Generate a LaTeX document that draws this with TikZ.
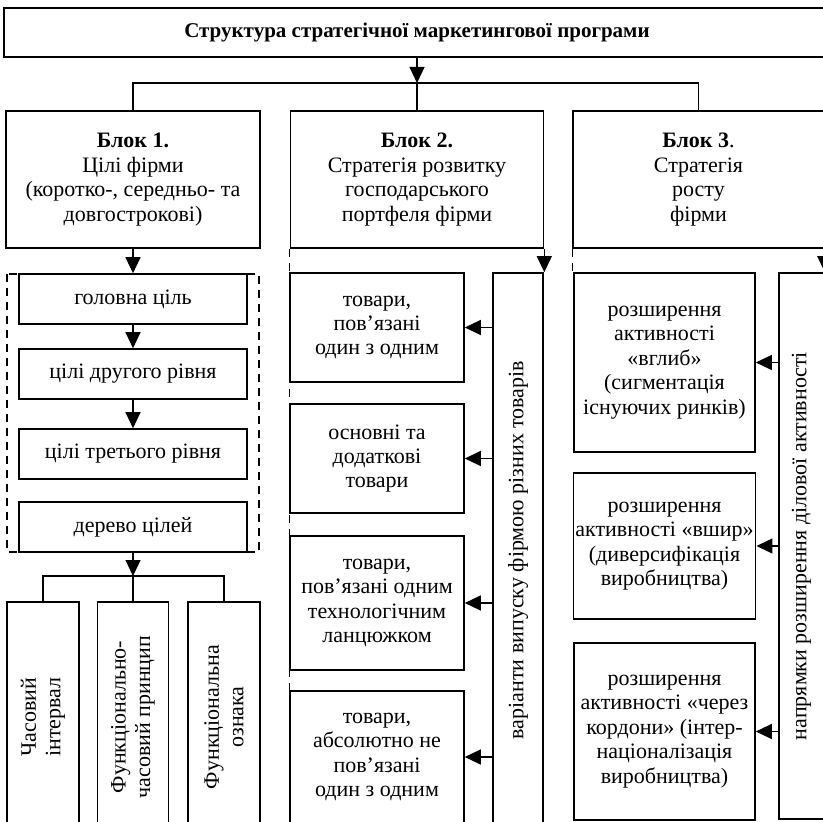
\documentclass[tikz,border=0pt]{standalone}
\usepackage{fontspec}
\setmainfont{Liberation Serif}
\usetikzlibrary{arrows.meta}

\begin{document}
\begin{tikzpicture}[x=0.5pt,y=-0.5pt,
	box_node/.style={draw,line width=0.8pt,fill=white,align=center,inner sep=1pt,font=\fontsize{11}{12.2}\selectfont},
	link/.style={line width=0.6pt},
	arr/.style={link,-{Triangle[length=8pt,width=7.5pt]}},
	dash_line/.style={line width=0.6pt,dash pattern=on 4pt off 3pt}]
		
		\clip (0,0) rectangle (823,822);
		
		\node[box_node,minimum width=413pt,minimum height=24.5pt,font=\fontsize{10.5}{12}\selectfont] (top) at (417,32.5) {\textbf{Структура стратегічної маркетингової програми}};
		
		\node[box_node,minimum width=127pt,minimum height=68.5pt] (b1) at (133,179.5) {\textbf{Блок 1.}\\Цілі фірми\\(коротко-, середньо- та\\довгострокові)};
		\node[box_node,minimum width=126.5pt,minimum height=68.5pt] (b2) at (417,179.5) {\textbf{Блок 2.}\\Стратегія розвитку\\господарського\\портфеля фірми};
		\node[box_node,minimum width=125.5pt,minimum height=68.5pt] (b3) at (698.5,179.5) {\textbf{Блок 3}.\\Стратегія\\росту\\фірми};
		
		\coordinate (fork) at (417,83);
		\draw[arr] (top.south) -- (fork);
		\draw[link] (b1.north) |- (fork) -| (b3.north);
		\draw[link] (fork) -- (b2.north);
		
		% block 1
		\draw[dash_line] (7,274) rectangle (259,552);
		\node[box_node,minimum width=114pt,minimum height=25pt] (g1) at (133,299) {головна ціль};
		\node[box_node,minimum width=114pt,minimum height=25pt] (g2) at (133,374) {цілі другого рівня};
		\node[box_node,minimum width=114pt,minimum height=25pt] (g3) at (133,454) {цілі третього рівня};
		\node[box_node,minimum width=114pt,minimum height=25pt] (g4) at (133,527) {дерево цілей};
		
		\draw[arr] (b1) -- (g1);
		\draw[arr] (g1) -- (g2);
		\draw[arr] (g2) -- (g3);
		
		\node[box_node,rotate=90,minimum width=115pt,minimum height=36pt] (t1) at (43,717) {Часовий\\інтервал};
		\node[box_node,rotate=90,minimum width=115pt,minimum height=35.5pt] (t2) at (133,717) {Функціонально-\\часовий принцип};
		\node[box_node,rotate=90,minimum width=115pt,minimum height=36pt] (t3) at (224,717) {Функціональна\\ознака};
		
		\coordinate (tree) at (133,576);
		\draw[arr] (g4) -- (tree);
		\draw[link] (t1.east) |- (tree) -| (t3.east);
		\draw[link] (tree) -- (t2.east);
		
		% block 2
		\node[box_node,rotate=90,minimum width=277pt,minimum height=25pt] (var) at (518,550) {варіанти випуску фірмою різних товарів};
		\node[box_node,minimum width=87pt,minimum height=54.5pt] (s1) at (377,327.5) {товари,\\пов’язані\\один з одним};
		\node[box_node,minimum width=87pt,minimum height=54.5pt] (s2) at (377,458.5) {основні та\\додаткові\\товари};
		\node[box_node,minimum width=87pt,minimum height=67pt] (s3) at (377,603) {товари,\\пов’язані одним\\технологічним\\ланцюжком};
		\node[box_node,minimum width=87pt,minimum height=66pt] (s4) at (377,757) {товари,\\абсолютно не\\пов’язані\\один з одним};
		
		\draw[dash_line] (b2.south west) -- ++(0,600);
		\draw[arr] (b2.south east) -- (b2.south east |- var.east);
		\draw[arr] (s1.east -| var.north) -- (s1.east);
		\draw[arr] (s2.east -| var.north) -- (s2.east);
		\draw[arr] (s3.east -| var.north) -- (s3.east);
		\draw[arr] (s4.east -| var.north) -- (s4.east);
		
		% block 3
		\node[box_node,rotate=90,minimum width=273pt,minimum height=22.5pt] (dir) at (801.5,546) {напрямки розширення ділової активності};
		\node[box_node,minimum width=90.5pt,minimum height=89.5pt] (r1) at (664.5,362.5) {розширення\\активності\\«вглиб»\\(сигментація\\існуючих ринків)};
		\node[box_node,minimum width=90.5pt,minimum height=73pt] (r2) at (664.5,546) {розширення\\активності «вшир»\\(диверсифікація\\виробництва)};
		\node[box_node,minimum width=90.5pt,minimum height=88.5pt] (r3) at (664.5,731.5) {розширення\\активності «через\\кордони» (інтер-\\націоналізація\\виробництва)};
		
		\draw[dash_line] (b3.south west) -- (b3.south west |- r1.north);
		\draw[arr] (b3.south east) -- (b3.south east |- dir.east);
		\draw[arr] (r1.east -| dir.north) -- (r1.east);
		\draw[arr] (r2.east -| dir.north) -- (r2.east);
		\draw[arr] (r3.east -| dir.north) -- (r3.east);
		
\end{tikzpicture}
\end{document}
